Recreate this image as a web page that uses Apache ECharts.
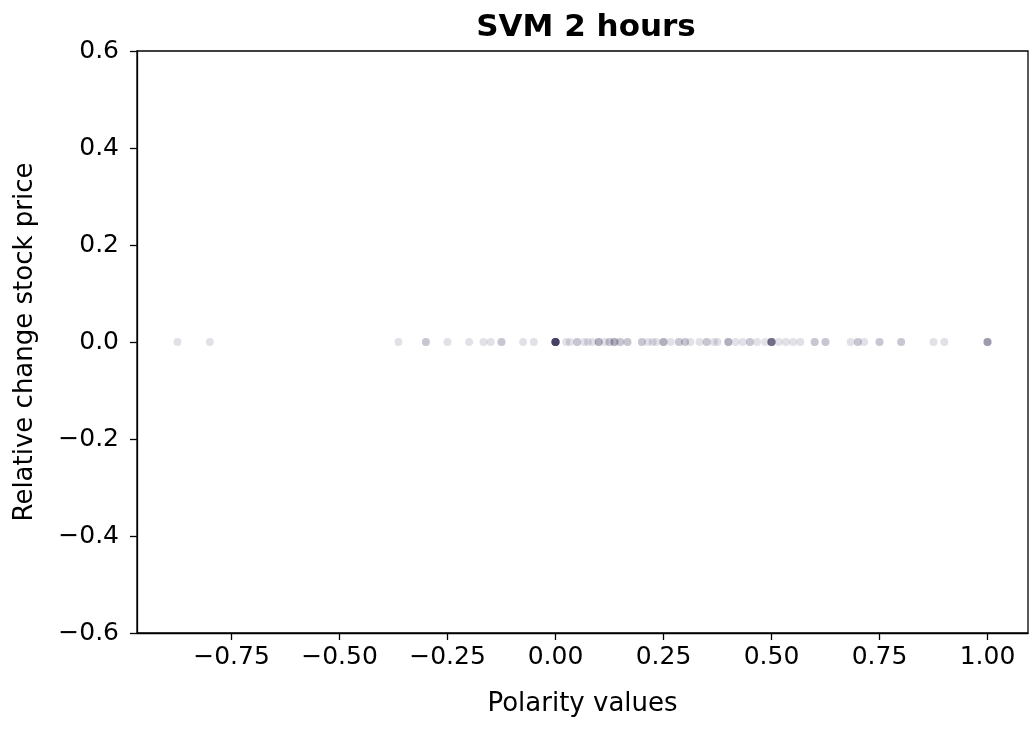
<!DOCTYPE html>
<html>
<head>
<meta charset="utf-8">
<script src="https://cdn.jsdelivr.net/npm/echarts@6/dist/echarts.min.js"></script>
<style>html,body{margin:0;padding:0;background:#fff;}#c{width:1033px;height:731px;}</style>
</head>
<body>
<div id="c"></div>
<script>
// Polarity values of each observation (relative change is 0 for all)
var polarity = [
  -0.875, -0.8, -0.3636, -0.3, -0.3, -0.25, -0.2, -0.1667, -0.15, -0.125, -0.125, -0.075, -0.05,
  0, 0, 0, 0, 0, 0, 0, 0, 0, 0, 0, 0,
  0.025, 0.0333, 0.05, 0.05, 0.0667, 0.075, 0.0857, 0.1, 0.1, 0.1, 0.1143, 0.125, 0.125, 0.1364, 0.1364, 0.1364,
  0.15, 0.15, 0.1667, 0.1667, 0.2, 0.2, 0.2143, 0.225, 0.2333, 0.25, 0.25, 0.25, 0.2667, 0.2857, 0.2857,
  0.3, 0.3, 0.3125, 0.3333, 0.35, 0.35, 0.3667, 0.375, 0.4, 0.4, 0.4, 0.4167, 0.4333, 0.45, 0.45, 0.4667, 0.4857,
  0.5, 0.5, 0.5, 0.5, 0.5, 0.5, 0.5, 0.5167, 0.5333, 0.55, 0.5667, 0.6, 0.6, 0.625, 0.625,
  0.6833, 0.7, 0.7, 0.7143, 0.75, 0.75, 0.8, 0.8, 0.875, 0.9, 1.0, 1.0, 1.0, 1.0
];
var relChange = polarity.map(function(){ return 0; });
var xTicks = [-0.75, -0.5, -0.25, 0, 0.25, 0.5, 0.75, 1.0];
var yTicks = [-0.6, -0.4, -0.2, 0, 0.2, 0.4, 0.6];

var data = polarity.map(function(p, i){ return [p, relChange[i]]; });
function fmt(v, d){ return v.toFixed(d).replace('-', '\u2212'); }
var FONT = 'DejaVu Sans';
var chart = echarts.init(document.getElementById('c'));
chart.setOption({
  animation: false,
  backgroundColor: '#fff',
  title: {
    text: 'SVM 2 hours', left: 581, top: 7, textAlign: 'center',
    textStyle: {fontFamily: FONT, fontWeight: 'bold', fontSize: 31, color: '#000'}
  },
  grid: {left: 137, right: 5, top: 51, bottom: 98, outerBoundsMode: 'none', containLabel: false,
    show: true, borderColor: '#000', borderWidth: 1.3, backgroundColor: 'transparent'},
  xAxis: {
    type: 'value', min: -0.96875, max: 1.09375,
    name: 'Polarity values', nameLocation: 'middle', nameGap: 58,
    nameTextStyle: {fontFamily: FONT, fontSize: 26, color: '#000'},
    axisLine: {show: true, onZero: false, lineStyle: {color: '#000', width: 1.3}},
    axisTick: {show: true, length: 7, customValues: xTicks, lineStyle: {color: '#000', width: 1.3}},
    axisLabel: {customValues: xTicks, margin: 12, fontFamily: FONT, fontSize: 25, color: '#000',
      formatter: function(v){ return fmt(v, 2); }},
    splitLine: {show: false}
  },
  yAxis: {
    type: 'value', min: -0.6, max: 0.6,
    name: 'Relative change stock price', nameLocation: 'middle', nameGap: 99,
    nameTextStyle: {fontFamily: FONT, fontSize: 26, color: '#000'},
    axisLine: {show: true, onZero: false, lineStyle: {color: '#000', width: 1.3}},
    axisTick: {show: true, length: 7, customValues: yTicks, lineStyle: {color: '#000', width: 1.3}},
    axisLabel: {customValues: yTicks, margin: 18, fontFamily: FONT, fontSize: 25, color: '#000',
      formatter: function(v){ return fmt(v, 1); }},
    splitLine: {show: false}
  },
  series: [{
    type: 'scatter', data: data, symbol: 'circle', symbolSize: 8,
    itemStyle: {color: '#1f1648', opacity: 0.13}
  }]
});
</script>
</body>
</html>
